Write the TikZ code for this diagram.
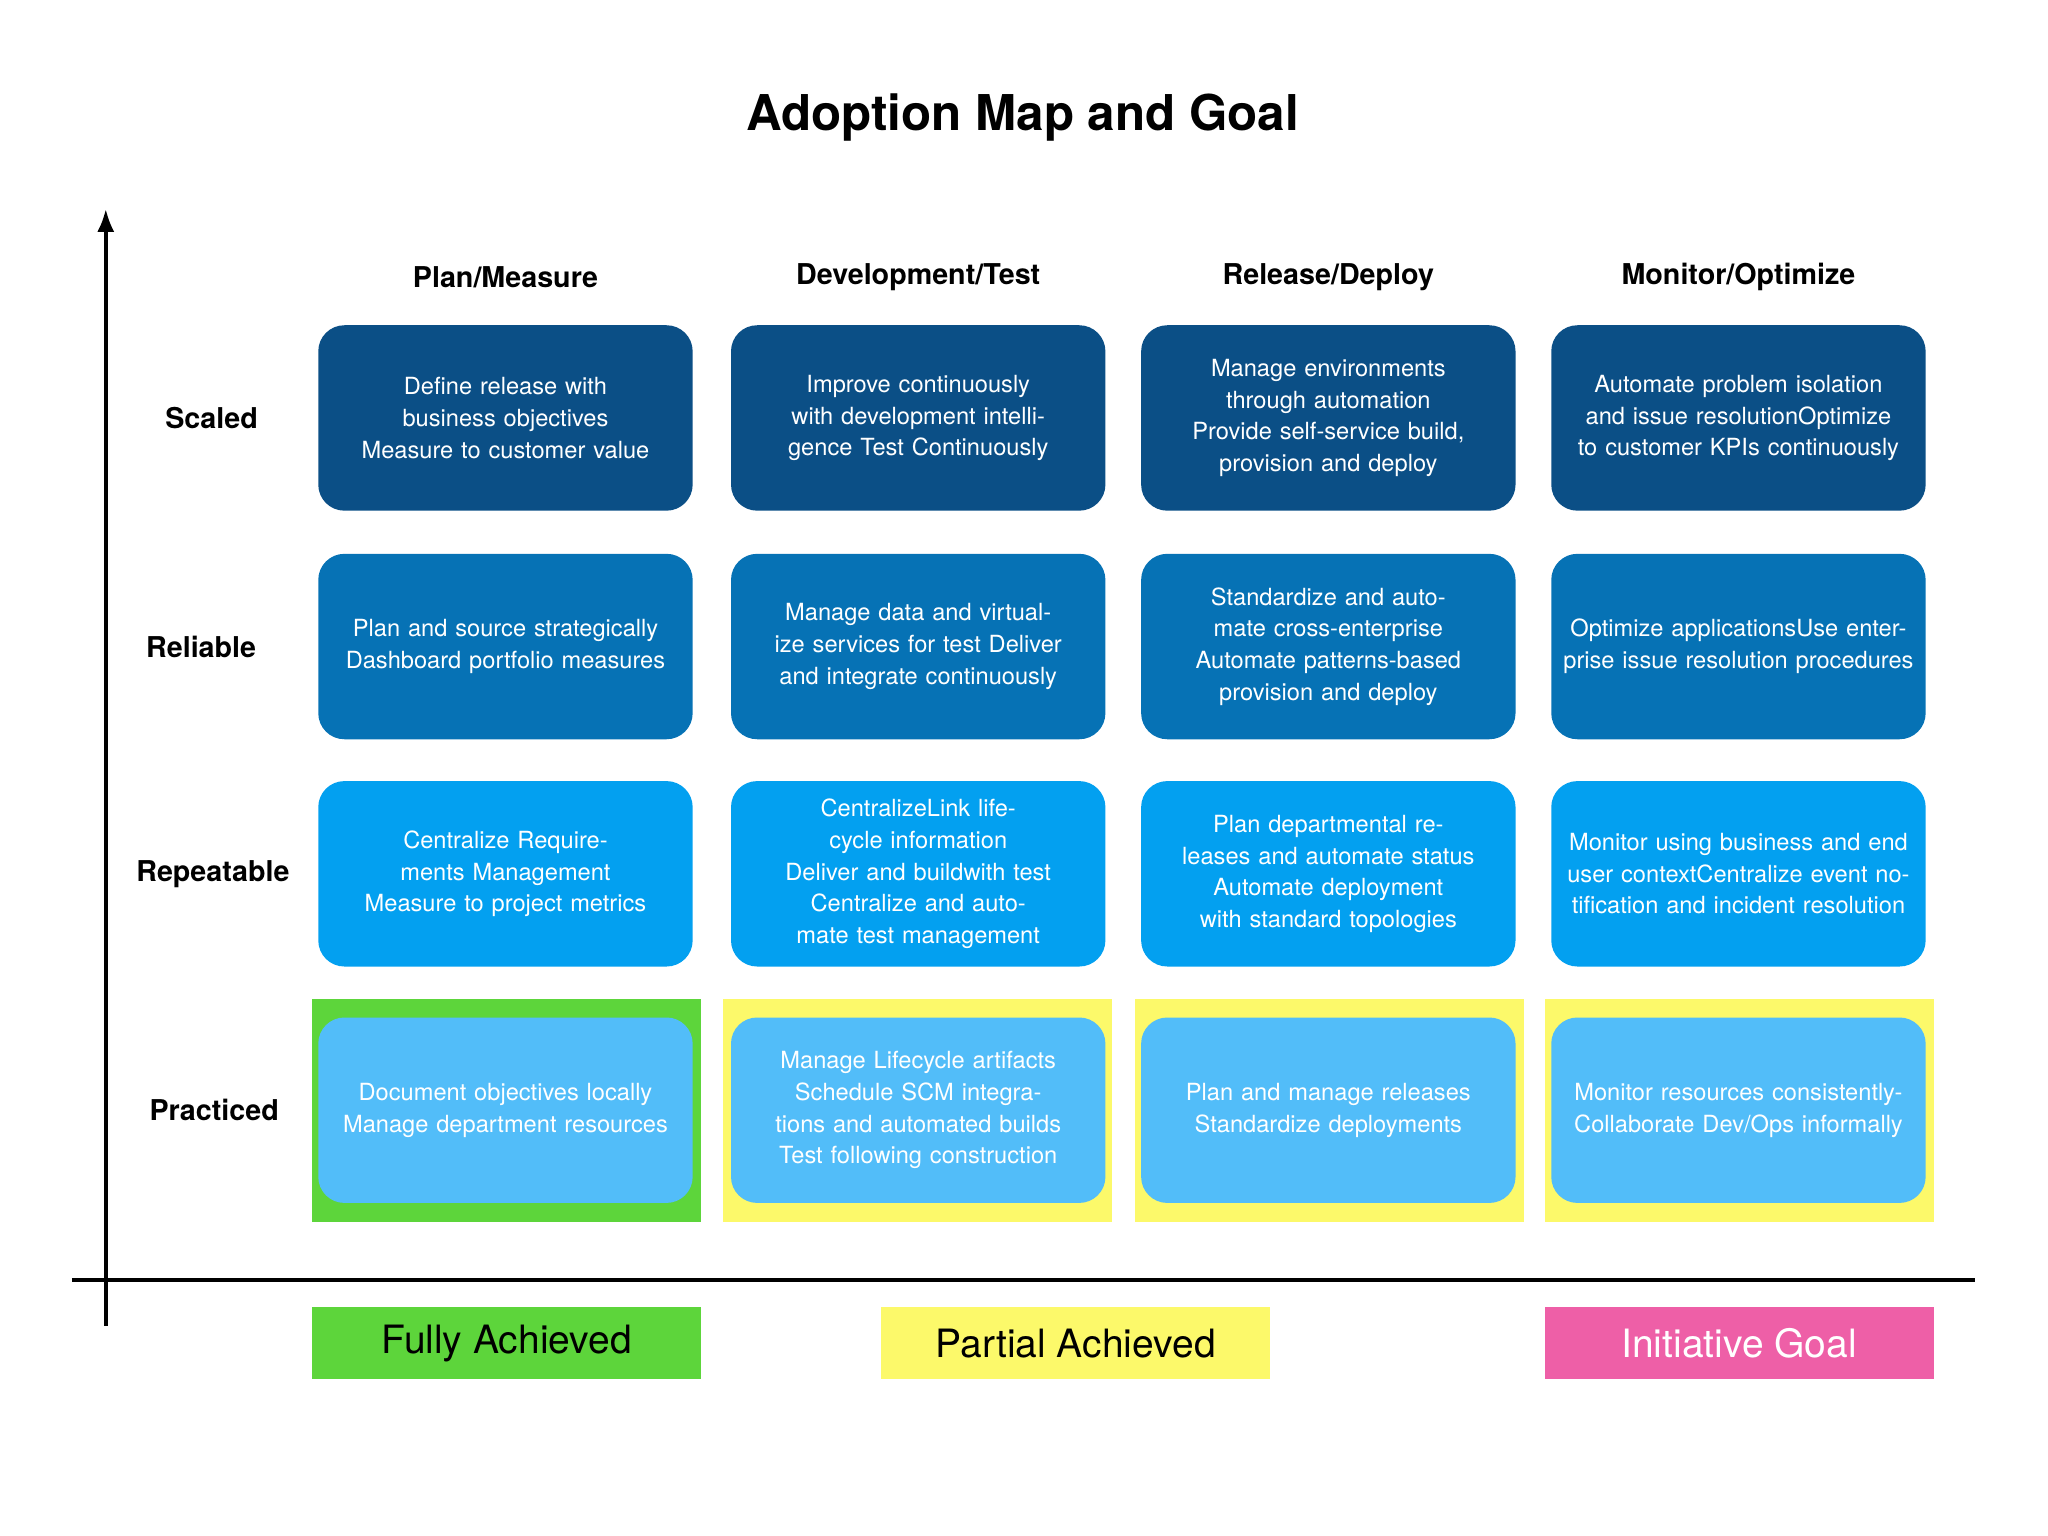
\documentclass[tikz,border=0pt]{standalone}
\usepackage{fontspec}
\setmainfont{TeX Gyre Heros}
\usetikzlibrary{arrows.meta}
\definecolor{scaledblue}{HTML}{0B4F86}
\definecolor{reliableblue}{HTML}{0672B5}
\definecolor{repeatblue}{HTML}{03A0F0}
\definecolor{practblue}{HTML}{52BDF9}
\definecolor{fullgreen}{HTML}{5DD53B}
\definecolor{partyellow}{HTML}{FCF96A}
\definecolor{goalpink}{HTML}{EE5FA7}
\tikzset{
    every node/.style={align=center,},
    cell/.style={rectangle,rounded corners=0.4cm,minimum width=5.7cm,minimum height=2.84cm,
        text width=5.5cm,text=white,font=\fontsize{10.3}{13.8}\selectfont},
    header/.style={font=\bfseries\fontsize{12.5}{15}\selectfont},
    level/.style={font=\bfseries\fontsize{12.5}{15}\selectfont},
    status/.style={rectangle,minimum width=5.96cm,minimum height=3.42cm},
    legend/.style={rectangle,minimum width=5.96cm,minimum height=1.1cm,font=\fontsize{17}{20}\selectfont},
}
\begin{document}
\begin{tikzpicture}[x=0.02cm,y=-0.02cm]
                \useasboundingbox (0,0) rectangle (1568,1176);

                \node[font=\bfseries\fontsize{21.5}{25}\selectfont] (title) at (783,90) {Adoption Map and Goal};

                % axes
                \coordinate (ybot) at (81,1015);
                \coordinate (ytop) at (81,160);
                \coordinate (xl) at (55,980);
                \coordinate (xr) at (1512,980);
                \draw[line width=1.5pt,-{Latex[length=10pt]}] (ybot) -- (ytop);
                \draw[line width=1.5pt] (xl) -- (xr);

                % column headers
                \node[header] (plan) at (387,212) {Plan/Measure};
                \node[header] (dev) at (703,212) {Development/Test};
                \node[header] (rel) at (1017,212) {Release/Deploy};
                \node[header] (mon) at (1331,212) {Monitor/Optimize};

                % row labels
                \node[level] (scaled) at (162,320) {Scaled};
                \node[level] (reliable) at (154,495) {Reliable};
                \node[level] (repeatable) at (163,669) {Repeatable};
                \node[level] (practiced) at (164,850) {Practiced};

                % achievement status
                \node[status,fill=fullgreen] (m1) at (388,850) {};
                \node[status,fill=partyellow] (m2) at (702.5,850) {};
                \node[status,fill=partyellow] (m3) at (1018,850) {};
                \node[status,fill=partyellow] (m4) at (1331.5,850) {};

                \node[cell,fill=scaledblue] (s1) at (387,320) {Define release with business objectives\\Measure to customer value};
                \node[cell,fill=scaledblue] (s2) at (703,320) {Improve continuously with development intelligence Test Continuously};
                \node[cell,fill=scaledblue] (s3) at (1017,320) {Manage environments through automation\\Provide self-service build, provision and deploy};
                \node[cell,fill=scaledblue] (s4) at (1331,320) {Automate problem isolation and issue resolutionOptimize to customer KPIs continuously};

                \node[cell,fill=reliableblue] (r1) at (387,495) {Plan and source strategically\\Dashboard portfolio measures};
                \node[cell,fill=reliableblue] (r2) at (703,495) {Manage data and virtualize services for test Deliver and integrate continuously};
                \node[cell,fill=reliableblue] (r3) at (1017,495) {Standardize and automate cross-enterprise\\Automate patterns-based provision and deploy};
                \node[cell,fill=reliableblue] (r4) at (1331,495) {Optimize applicationsUse enterprise issue resolution procedures};

                \node[cell,fill=repeatblue] (p1) at (387,669) {Centralize Requirements Management\\Measure to project metrics};
                \node[cell,fill=repeatblue] (p2) at (703,669) {CentralizeLink lifecycle information\\Deliver and buildwith test\\Centralize and automate test management};
                \node[cell,fill=repeatblue] (p3) at (1017,669) {Plan departmental releases and automate status\\Automate deployment with standard topologies};
                \node[cell,fill=repeatblue] (p4) at (1331,669) {Monitor using business and end user contextCentralize event notification and incident resolution};

                \node[cell,fill=practblue] (c1) at (387,850) {Document objectives locally\\Manage department resources};
                \node[cell,fill=practblue] (c2) at (703,850) {Manage Lifecycle artifacts\\Schedule SCM integrations and automated builds\\Test following construction};
                \node[cell,fill=practblue] (c3) at (1017,850) {Plan and manage releases\\Standardize deployments};
                \node[cell,fill=practblue] (c4) at (1331,850) {Monitor resources consistentlyCollaborate Dev/Ops informally};

                % legend
                \node[legend,fill=fullgreen] (full) at (388,1028.5) {Fully Achieved};
                \node[legend,fill=partyellow] (partial) at (823.5,1028.5) {Partial Achieved};
                \node[legend,fill=goalpink,text=white] (goal) at (1331.5,1028.5) {Initiative Goal};
            \end{tikzpicture}
\end{document}
